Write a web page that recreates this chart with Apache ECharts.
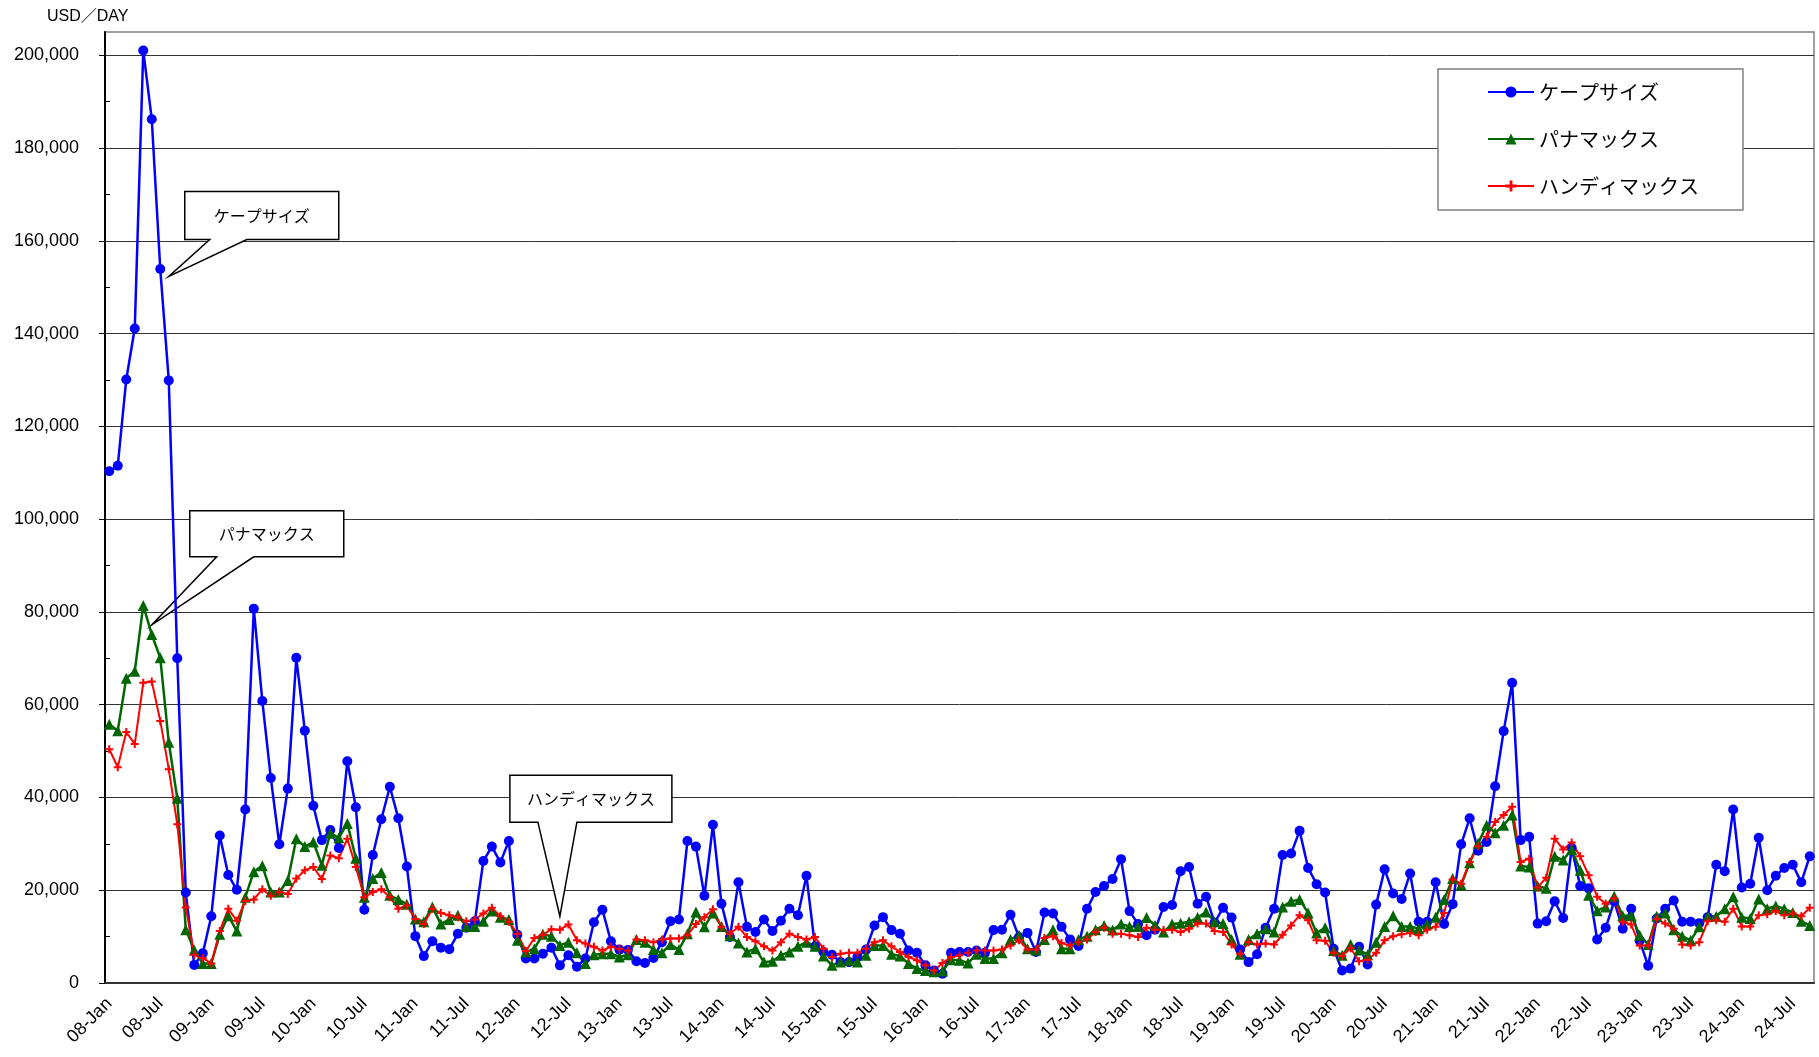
<!DOCTYPE html>
<html>
<head>
<meta charset="utf-8">
<script src="https://cdn.jsdelivr.net/npm/echarts@6/dist/echarts.min.js"></script>
<style>
  html, body { margin: 0; padding: 0; background: #fff; }
  #chart { width: 1819px; height: 1057px; }
</style>
</head>
<body>
<div id="chart"></div>
<script>
// monthly averages, 2008-01 .. 2024-09 (one row per year)
const capesize = [
  110300, 111500, 130100, 141100, 201000, 186200, 153900, 129900, 70000, 19500, 3900, 6400,
  14400, 31800, 23300, 20100, 37400, 80700, 60800, 44200, 29900, 41900, 70100, 54400,
  38200, 30800, 33000, 29100, 47800, 37900, 15800, 27600, 35300, 42300, 35500, 25100,
  10100, 5800, 9000, 7600, 7300, 10600, 11900, 13300, 26300, 29400, 26000, 30600,
  10400, 5300, 5300, 6300, 7600, 3800, 6000, 3500, 5300, 13100, 15800, 9000,
  7200, 7100, 4700, 4300, 5400, 8800, 13300, 13700, 30600, 29400, 18800, 34100,
  17100, 9900, 21700, 12100, 11000, 13700, 11200, 13400, 16000, 14600, 23100, 7900,
  6700, 6100, 4500, 4500, 5600, 7200, 12400, 14200, 11400, 10600, 7000, 6500,
  3800, 2700, 2000, 6500, 6700, 6700, 7000, 6500, 11400, 11500, 14700, 9900,
  10800, 6700, 15200, 15000, 12100, 9400, 8000, 16000, 19600, 20900, 22400, 26700,
  15500, 12700, 10300, 11500, 16400, 16800, 24100, 25000, 17100, 18600, 13000, 16200,
  14100, 7200, 4500, 6200, 11900, 16000, 27600, 27900, 32800, 24800, 21300, 19500,
  7400, 2700, 3100, 7800, 4000, 16900, 24500, 19300, 18100, 23600, 13200, 13200,
  21700, 12700, 17000, 29900, 35500, 28500, 30400, 42400, 54300, 64700, 30800, 31500,
  12800, 13300, 17600, 14000, 29100, 20900, 20400, 9400, 11900, 17600, 11700, 16000,
  9100, 3700, 13900, 16000, 17800, 13200, 13200, 12900, 14200, 25500, 24100, 37400,
  20600, 21400, 31300, 20000, 23100, 24800, 25500, 21700, 27300
];
const panamax = [
  55800, 54400, 65700, 67200, 81400, 75100, 70100, 51900, 39800, 11500, 7100, 4200,
  4200, 10500, 14500, 11200, 18500, 24000, 25300, 19600, 19600, 22100, 31100, 29400,
  30400, 25400, 32300, 31300, 34400, 26900, 18500, 22500, 23800, 18900, 18000, 17000,
  13800, 13200, 16400, 12700, 13700, 14600, 12200, 12200, 13300, 15500, 14200, 13700,
  9200, 6700, 7400, 10500, 10100, 8100, 8800, 6500, 4200, 6100, 6300, 6300,
  5600, 6100, 9400, 8800, 7200, 6500, 8300, 7200, 10600, 15300, 12100, 15100,
  12200, 10200, 8600, 6700, 7400, 4500, 4700, 6000, 6700, 7900, 8800, 7900,
  5800, 3800, 4500, 4900, 4500, 6000, 8100, 8100, 6200, 5800, 4200, 3100,
  2700, 2400, 2600, 5000, 4900, 4300, 6200, 5300, 5300, 6500, 9400, 10300,
  7400, 7100, 9400, 11500, 7400, 7400, 9400, 10100, 11500, 12400, 11400, 12700,
  12200, 12200, 14100, 12400, 11000, 12700, 12900, 13200, 14100, 15300, 13200, 12800,
  9400, 6200, 9400, 10600, 11700, 11000, 16400, 17600, 18000, 15100, 10800, 11900,
  7000, 6000, 8300, 7100, 6100, 8800, 12200, 14500, 12200, 12200, 11700, 12700,
  14200, 18000, 22500, 21100, 25900, 30100, 34000, 32400, 34000, 36200, 25200, 25000,
  20900, 20400, 27300, 26500, 28800, 24300, 18900, 15600, 16400, 18700, 14500, 14500,
  10300, 8300, 14400, 15100, 11500, 10100, 9200, 12100, 14400, 14400, 16000, 18600,
  14200, 13900, 18100, 16000, 16600, 16000, 15200, 13300, 12400
];
const handymax = [
  50400, 46500, 54100, 51500, 64700, 65000, 56500, 46100, 34200, 16300, 6100, 5400,
  4200, 11200, 16000, 13400, 17700, 18000, 20200, 18800, 19600, 19200, 22500, 24300,
  25000, 22400, 27500, 26900, 31100, 25000, 18500, 19600, 20200, 18500, 16000, 16700,
  13800, 12700, 16000, 15100, 14600, 14200, 13300, 13700, 15000, 16200, 14400, 13200,
  10600, 6900, 9700, 10400, 11600, 11500, 12600, 9200, 8500, 7800, 7000, 7800,
  7400, 7000, 9400, 9200, 8800, 9400, 9600, 9600, 10300, 12700, 14200, 15900,
  12100, 10600, 12100, 9900, 9000, 7900, 7000, 8800, 10600, 9900, 9400, 9900,
  7400, 5600, 6300, 6500, 6500, 7400, 8800, 9200, 7900, 6700, 5600, 4900,
  3800, 2700, 4300, 5600, 6000, 6500, 7000, 7000, 7000, 7200, 8100, 9200,
  7200, 7200, 9700, 10100, 8600, 8100, 8800, 9400, 11000, 11900, 10600, 10600,
  10300, 9900, 11900, 11500, 11400, 11500, 11000, 11700, 12800, 12800, 11200, 11000,
  8300, 6300, 8800, 8300, 8500, 8300, 10400, 12400, 14600, 13500, 9200, 9100,
  6500, 5800, 7500, 4700, 5000, 6500, 9200, 10100, 10500, 10800, 10300, 11500,
  12100, 15100, 22300, 21400, 26100, 29500, 31500, 34700, 36200, 38000, 26100, 26800,
  20600, 22700, 31100, 28800, 30300, 27300, 23200, 18600, 17100, 18200, 13200, 12600,
  8100, 8100, 13800, 12800, 11700, 8300, 8100, 8800, 13300, 13500, 13200, 16000,
  12200, 12200, 14600, 14800, 15500, 14600, 15000, 14400, 16200
];

const monthNames = ['Jan', 'Feb', 'Mar', 'Apr', 'May', 'Jun', 'Jul', 'Aug', 'Sep', 'Oct', 'Nov', 'Dec'];
const months = [];
for (let i = 0; i < capesize.length; i++) {
  const yy = String(8 + Math.floor(i / 12)).padStart(2, '0');
  months.push(yy + '-' + monthNames[i % 12]);
}

const seriesNames = ['ケープサイズ', 'パナマックス', 'ハンディマックス'];

// callouts: tip in data coords, box/wedge offsets from the tip in px
const callouts = [
  {text: 'ケープサイズ', at: [7.4, 152300], box: [16, -85, 154, 48], wedge: [41, 78]},
  {text: 'パナマックス', at: [5.4, 77200], box: [38, -114, 154, 46], wedge: [65, 102]},
  {text: 'ハンディマックス', at: [53.4, 14400], box: [-50, -141, 162, 47], wedge: [-22, 17]}
];

const numFont = 'Liberation Sans, Arial, Noto Sans CJK JP, sans-serif';
const jpFont = 'Noto Sans CJK JP, sans-serif';
const plusSymbol = 'path://M3,0H5V3H8V5H5V8H3V5H0V3H3Z';

const chart = echarts.init(document.getElementById('chart'));

const options = {
  animation: false,
  backgroundColor: '#fff',
  title: {
    text: 'USD／DAY',
    left: 42,
    top: 4,
    textStyle: {fontSize: 16, fontWeight: 'normal', color: '#000', fontFamily: numFont}
  },
  grid: {
    left: 105, right: 5, top: 32, bottom: 74,
    show: true,
    borderColor: '#808080',
    borderWidth: 1.5
  },
  legend: {
    data: seriesNames,
    orient: 'vertical',
    left: 1438,
    top: 69,
    padding: [13, 44, 14, 49],
    itemGap: 27,
    itemWidth: 46,
    itemHeight: 14,
    backgroundColor: '#fff',
    borderColor: '#808080',
    borderWidth: 1.5,
    textStyle: {fontSize: 20, color: '#000', fontFamily: jpFont}
  },
  xAxis: {
    type: 'category',
    data: months,
    boundaryGap: true,
    axisLine: {lineStyle: {color: '#333', width: 2}},
    axisTick: {interval: 5, inside: true, length: 6, lineStyle: {color: '#333', width: 1.5}},
    axisLabel: {
      interval: 5,
      rotate: 45,
      margin: 18,
      fontSize: 18,
      color: '#000',
      fontFamily: numFont
    },
    splitLine: {show: false}
  },
  yAxis: [
    {
      type: 'value',
      position: 'left',
      min: 0,
      max: 205000,
      interval: 20000,
      axisLine: {show: true, lineStyle: {color: '#000', width: 2}},
      axisTick: {show: true, length: 6, lineStyle: {color: '#000'}},
      axisLabel: {
        margin: 26,
        fontSize: 18,
        color: '#000',
        fontFamily: numFont,
        showMaxLabel: false,
        formatter: v => v.toLocaleString('en-US')
      },
      splitLine: {show: true, showMaxLine: false, lineStyle: {color: '#333', width: 1}}
    },
    {
      type: 'value',
      position: 'left',
      min: 0,
      max: 205000,
      interval: 20000,
      axisLine: {show: false},
      axisTick: {show: false, inside: true},
      minorTick: {show: true, splitNumber: 2, length: 5, lineStyle: {color: '#000'}},
      axisLabel: {show: false},
      splitLine: {show: false}
    }
  ],
  series: [
    {
      name: seriesNames[0],
      type: 'line',
      data: capesize,
      color: '#0000ff',
      symbol: 'circle',
      symbolSize: 10,
      showAllSymbol: true,
      lineStyle: {width: 2.5}
    },
    {
      name: seriesNames[1],
      type: 'line',
      data: panamax,
      color: '#006600',
      symbol: 'triangle',
      symbolSize: 11,
      showAllSymbol: true,
      lineStyle: {width: 2.5}
    },
    {
      name: seriesNames[2],
      type: 'line',
      data: handymax,
      color: '#ff0000',
      symbol: plusSymbol,
      symbolSize: 8,
      showAllSymbol: true,
      lineStyle: {width: 2}
    }
  ]
};

chart.setOption(options);

// speech-bubble labels pointing at the lines
const bubbles = callouts.map(c => {
  const tip = chart.convertToPixel({xAxisIndex: 0, yAxisIndex: 0}, c.at);
  const x0 = tip[0] + c.box[0], y0 = tip[1] + c.box[1];
  const x1 = x0 + c.box[2], y1 = y0 + c.box[3];
  return {
    type: 'group',
    z: 100,
    children: [
      {
        type: 'polygon',
        shape: {
          points: [
            [x0, y0], [x1, y0], [x1, y1],
            [tip[0] + c.wedge[1], y1], tip, [tip[0] + c.wedge[0], y1],
            [x0, y1]
          ]
        },
        style: {fill: '#fff', stroke: '#000', lineWidth: 1.5}
      },
      {
        type: 'text',
        x: (x0 + x1) / 2,
        y: (y0 + y1) / 2,
        style: {
          text: c.text,
          fontSize: 16,
          fontFamily: jpFont,
          fill: '#000',
          align: 'center',
          verticalAlign: 'middle'
        }
      }
    ]
  };
});
chart.setOption({graphic: bubbles});
</script>
</body>
</html>
